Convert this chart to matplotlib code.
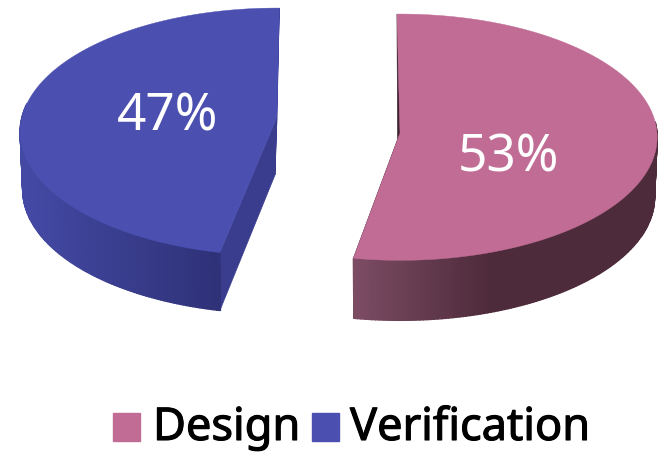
import numpy as np
import matplotlib
matplotlib.use('Agg')
import matplotlib.pyplot as plt
import matplotlib.patheffects as pe
from matplotlib.colors import to_rgb
from matplotlib.patches import Rectangle

# Data
categories = ['Design', 'Verification']
shares = [53, 47]
top_colors = ['#c06c94', '#4b4fb0']
face_colors = ['#3d2230', '#3a3d8e']
side_light = ['#7c4c64', '#4449a4']
side_dark = ['#4e2b3b', '#2f3278']

# per slice placement of the exploded, perspective pie (pixels)
apex = [(400, 133), (277, 117)]
radius = [(257, 123), (255, 122)]
persp = [0.034, 0.12]
depth = [60, 58]
start_deg = [-0.7, 190.8 + 0.6]
shade_x = [(355, 490), (25, 215)]
label_xy = [(508, 158), (168, 117)]
swatch_x = [113, 312]
legend_x = [153, 350]


def rim(i, t):
    # point on the projected circle, t clockwise from the back of the pie
    s = 1 / (1 + persp[i] * np.cos(t))
    x = apex[i][0] + radius[i][0] * np.sin(t) * s
    y = apex[i][1] - radius[i][1] * np.cos(t) * s
    return x, y


fig = plt.figure(figsize=(6.61, 4.54), dpi=100)
ax = fig.add_axes([0, 0, 1, 1])
ax.set_xlim(0, 661)
ax.set_ylim(454, 0)
ax.axis('off')

for i in [1, 0]:
    sweep = np.radians(shares[i] * 3.6)
    t0 = np.radians(start_deg[i])
    t = np.linspace(t0, t0 + sweep, 240)
    x, y = rim(i, t)
    ax0, ay0 = apex[i]
    d = depth[i]

    # flat cut faces
    if i == 0:
        ax.fill([x[0], ax0, ax0 - 2], [y[0], ay0, ay0 + d],
                color=face_colors[i], lw=0.5, zorder=2)
        ax.fill([x[-1], ax0, ax0 - 2, x[-1]], [y[-1], ay0, ay0 + d, y[-1] + d],
                color=face_colors[i], lw=0.5, zorder=2)
    else:
        ax.fill([x[0], ax0, ax0 - 2, x[0]], [y[0], ay0, ay0 + d, y[0] + d],
                color=face_colors[i], lw=0.5, zorder=2)
        ax.fill([x[-1], ax0, ax0 - 2], [y[-1], ay0, ay0 + d],
                color=face_colors[i], lw=0.5, zorder=2)

    # outer wall in strips for the gradient, only the front part shows
    c1 = np.array(to_rgb(side_light[i]))
    c2 = np.array(to_rgb(side_dark[i]))
    x_low = ax0 + (x - ax0) * 0.99
    for j in range(len(t) - 1):
        if np.cos(t[j]) > 0.1:
            continue
        f = np.clip((x[j] - shade_x[i][0]) / (shade_x[i][1] - shade_x[i][0]), 0, 1)
        col = c1 + (c2 - c1) * f
        ax.fill([x[j], x[j + 1], x_low[j + 1], x_low[j]],
                [y[j], y[j + 1], y[j + 1] + d, y[j] + d],
                color=col, lw=1.0, zorder=3)

    # top of the slice
    ax.fill(np.r_[ax0, x], np.r_[ay0, y], color=top_colors[i], lw=0.3, zorder=4)

    ax.text(label_xy[i][0], label_xy[i][1], f'{shares[i]}%', color='white',
            fontsize=37, family='Noto Sans', ha='center', va='center', zorder=5)

    # legend
    ax.add_patch(Rectangle((swatch_x[i], 413), 27, 28, color=top_colors[i]))
    ax.text(legend_x[i], 428, categories[i], color='black', fontsize=32.5,
            family='Noto Sans', ha='left', va='center',
            path_effects=[pe.withStroke(linewidth=0.8, foreground='black')])

fig.savefig('out.png', dpi=100)
